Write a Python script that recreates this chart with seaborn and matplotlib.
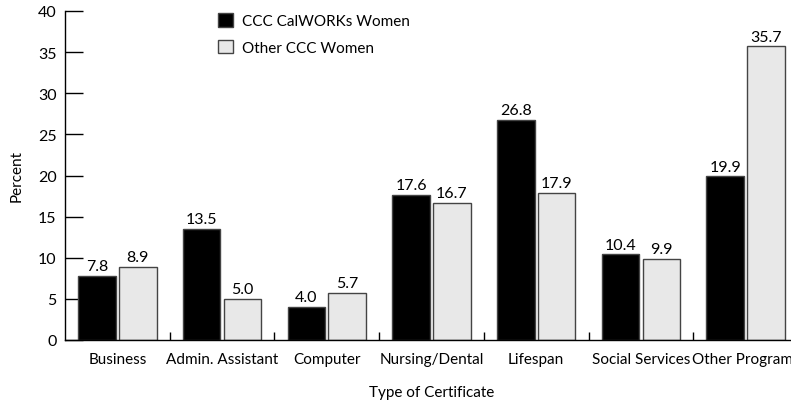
import matplotlib
matplotlib.use("Agg")
import matplotlib.pyplot as plt
import seaborn as sns
import pandas as pd

# Data
categories = ["Business", "Admin. Assistant", "Computer", "Nursing/Dental",
              "Lifespan", "Social Services", "Other Programs"]
calworks = [7.8, 13.5, 4.0, 17.6, 26.8, 10.4, 19.9]
other_women = [8.9, 5.0, 5.7, 16.7, 17.9, 9.9, 35.7]
series_names = ["CCC CalWORKs Women", "Other CCC Women"]
y_ticks = [0, 5, 10, 15, 20, 25, 30, 35, 40]

df = pd.DataFrame({
    "Certificate": categories * 2,
    "Group": [series_names[0]] * len(categories) + [series_names[1]] * len(categories),
    "Percent": calworks + other_women,
})

sns.set_theme(style="white")
plt.rcParams["font.family"] = ["Lato", "DejaVu Sans"]
plt.rcParams["text.color"] = "black"
plt.rcParams["axes.labelcolor"] = "black"
plt.rcParams["xtick.color"] = "black"
plt.rcParams["ytick.color"] = "black"

fig = plt.figure(figsize=(7.91, 4.02), dpi=100)
ax = fig.add_axes([65 / 791, 1 - 341 / 402, 733 / 791, (341 - 12) / 402])

sns.barplot(data=df, x="Certificate", y="Percent", hue="Group",
            palette=["#000000", "#e8e8e8"], width=0.78, gap=0.08,
            edgecolor="#444444", linewidth=1, ax=ax, legend=True)

for cont in ax.containers:
    ax.bar_label(cont, fmt="%.1f", padding=2, fontsize=11.5, color="black")

ax.set_ylim(0, 40)
ax.set_xlim(-0.5, len(categories) - 0.5)
ax.set_yticks(y_ticks)
ax.tick_params(axis="y", direction="in", length=13, width=1,
               labelsize=11.5, pad=6, left=True)
ax.set_xticks(range(len(categories)))
ax.set_xticklabels(categories, fontsize=11)
ax.tick_params(axis="x", which="major", length=0, pad=9)
ax.set_xticks([i + 0.5 for i in range(len(categories) - 1)], minor=True)
ax.tick_params(axis="x", which="minor", direction="in", length=6, width=1,
               bottom=True)

for side in ["top", "right"]:
    ax.spines[side].set_visible(False)
for side in ["left", "bottom"]:
    ax.spines[side].set_color("black")
    ax.spines[side].set_linewidth(1)

ax.set_ylabel("Percent", fontsize=11, labelpad=10)
ax.set_xlabel("Type of Certificate", fontsize=11, labelpad=13)

leg = ax.legend(loc="upper left", bbox_to_anchor=(0.19, 1.035), frameon=False,
                fontsize=11, handlelength=1.0, handleheight=1.0,
                handletextpad=0.6, labelspacing=0.75)

fig.savefig("out.png", dpi=100)
